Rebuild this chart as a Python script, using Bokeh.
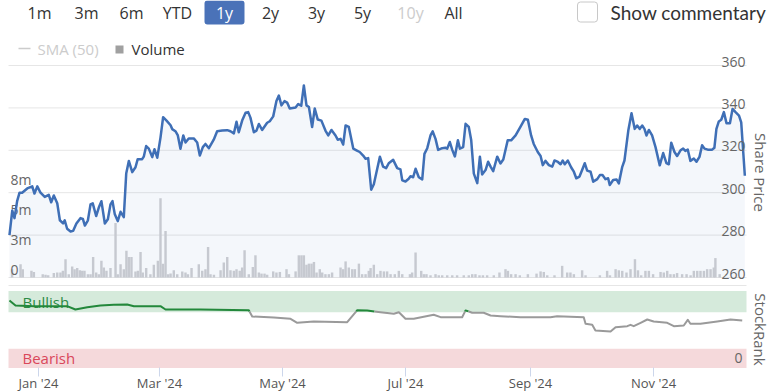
import datetime as dt
from bokeh.plotting import figure
from bokeh.models import Range1d
from bokeh.core.properties import value
from bokeh.embed import file_html
from bokeh.resources import INLINE

# ---------------- data ----------------
# x values: days since 2024-01-01
price_days = [-14.4, -13.0, -11.9, -10.6, -9.4, -8.1, -5.6, -3.1, -2.0, -0.6,
              1.0, 3.1, 5.1, 6.3, 7.6, 9.3, 10.6, 12.2, 13.0, 14.2,
              15.9, 17.2, 18.8, 20.8, 22.0, 23.0, 24.5, 25.8, 26.9, 28.6,
              29.9, 31.2, 32.9, 34.4, 35.7, 36.7, 37.8, 39.3, 40.7, 42.3,
              43.5, 44.8, 46.5, 48.1, 49.2, 51.4, 52.2, 53.4, 54.7, 56.4,
              57.5, 58.9, 60.5, 61.8, 63.5, 65.5, 66.3, 67.9, 69.1, 70.4,
              71.8, 72.9, 74.5, 77.0, 78.7, 80.0, 81.5, 82.8, 84.5, 86.9,
              88.6, 91.1, 93.6, 95.2, 96.9, 98.2, 99.3, 101.0, 102.7, 104.0,
              105.1, 106.8, 108.1, 109.3, 110.9, 113.4, 114.7, 116.4, 118.0, 119.2,
              120.5, 122.0, 123.3, 124.6, 127.5, 128.8, 130.3, 131.6, 132.9, 134.1,
              135.7, 137.0, 138.5, 140.3, 142.3, 143.7, 145.3, 147.3, 148.4, 149.8,
              151.1, 152.3, 153.9, 156.1, 157.7, 159.3, 161.0, 162.2, 163.5, 165.0,
              166.3, 169.3, 170.9, 172.4, 173.7, 175.9, 177.9, 179.5, 180.4, 182.0,
              183.6, 184.5, 185.8, 187.0, 188.6, 190.3, 191.4, 192.8, 194.4, 195.5,
              196.9, 198.2, 200.2, 201.8, 202.7, 204.0, 205.2, 206.5, 208.0, 209.0,
              210.6, 211.8, 213.4, 214.6, 215.9, 217.6, 218.9, 220.0, 221.7, 223.0,
              224.2, 225.5, 227.5, 229.1, 230.5, 232.7, 234.4, 236.6, 239.0, 241.2,
              242.7, 244.3, 245.6, 247.6, 249.0, 250.1, 251.4, 253.1, 254.8, 255.9,
              257.6, 258.9, 260.0, 261.0, 262.5, 264.2, 265.5, 266.7, 268.3, 269.6,
              270.9, 272.1, 273.8, 275.1, 277.1, 278.4, 279.7, 281.2, 282.5, 283.3,
              285.0, 286.7, 287.8, 289.5, 290.6, 292.5, 294.1, 295.7, 296.9, 298.2,
              299.4, 300.5, 301.5, 302.7, 304.3, 306.0, 308.1, 309.8, 311.4, 312.6,
              313.8, 315.4, 316.7, 318.4, 319.7, 320.8, 322.0, 323.3, 325.0, 326.3,
              327.8, 329.1, 330.3, 331.9, 334.1, 335.2, 336.2, 337.4, 338.6, 339.9,
              341.2, 342.9, 344.2, 345.7, 347.4, 348.5, 350.3]
price_vals = [280.0, 291.6, 288.0, 296.0, 300.0, 300.0, 302.0, 303.0, 299.6, 303.0,
              300.0, 298.0, 299.0, 295.5, 298.7, 295.0, 287.0, 285.5, 287.0, 283.0,
              281.7, 282.0, 285.5, 288.0, 287.6, 284.5, 287.0, 294.5, 295.0, 289.0,
              293.0, 296.0, 285.5, 287.5, 294.5, 296.0, 290.0, 286.6, 291.0, 288.5,
              309.0, 315.0, 309.7, 312.0, 315.8, 315.8, 317.0, 322.0, 320.8, 316.8,
              320.5, 316.5, 326.0, 335.6, 334.0, 331.8, 330.0, 329.0, 327.0, 320.7,
              327.0, 323.7, 325.6, 325.6, 323.7, 317.5, 321.5, 323.0, 321.0, 325.0,
              329.0, 329.3, 329.5, 329.0, 328.0, 333.5, 328.5, 334.0, 337.7, 338.0,
              335.4, 328.5, 329.3, 332.4, 329.6, 333.0, 333.7, 336.0, 343.2, 345.8,
              341.2, 343.2, 342.5, 339.7, 340.2, 341.8, 341.0, 350.6, 341.2, 340.4,
              331.0, 339.7, 334.5, 334.0, 329.3, 327.0, 329.6, 327.0, 325.0, 325.4,
              322.7, 331.7, 331.0, 320.8, 320.0, 319.2, 317.5, 316.0, 316.3, 301.4,
              304.0, 317.0, 312.3, 311.6, 313.9, 315.5, 311.6, 311.0, 305.8, 305.3,
              306.6, 307.8, 307.3, 311.3, 307.3, 306.3, 318.3, 321.0, 327.0, 328.9,
              325.4, 320.2, 321.0, 321.2, 320.8, 323.9, 320.2, 317.1, 324.7, 320.8,
              321.5, 332.5, 331.0, 324.7, 309.0, 304.5, 317.0, 308.6, 310.7, 314.6,
              312.3, 310.2, 317.0, 313.8, 315.7, 324.7, 324.7, 327.0, 331.0, 334.8,
              334.4, 327.0, 323.0, 319.2, 317.3, 313.0, 315.0, 313.0, 312.3, 315.2,
              314.5, 313.4, 315.2, 313.4, 315.2, 311.9, 309.9, 306.8, 307.6, 310.7,
              313.9, 310.4, 309.9, 305.2, 306.4, 308.3, 308.3, 306.4, 306.8, 303.6,
              306.0, 306.2, 304.4, 312.2, 315.2, 329.3, 337.5, 330.1, 331.7, 330.1,
              331.7, 330.1, 327.0, 329.6, 327.0, 321.5, 312.9, 318.7, 314.0, 313.4,
              323.6, 319.2, 317.3, 320.0, 320.8, 319.7, 320.3, 315.0, 316.1, 314.6,
              316.9, 322.4, 320.8, 320.3, 320.3, 321.2, 330.1, 333.6, 334.4, 338.0,
              332.8, 332.8, 339.5, 338.0, 336.4, 333.2, 308.0]

vol_days = [-13.1, -8.9, -7.8, -3.5, -2.3, 2.1, 3.5, 4.8, 7.6, 9.3,
            10.9, 12.1, 13.4, 15.0, 16.7, 17.9, 19.2, 20.5, 21.7, 22.8,
            24.5, 25.8, 27.1, 28.6, 29.9, 31.2, 32.4, 33.7, 35.7, 38.2,
            39.3, 40.7, 42.3, 43.6, 44.8, 46.1, 48.1, 49.3, 50.6, 51.7,
            53.4, 55.5, 57.2, 59.2, 60.5, 61.7, 63.0, 64.3, 65.5, 67.1,
            68.8, 71.3, 72.9, 74.1, 75.9, 79.5, 81.2, 82.8, 84.1, 85.3,
            87.0, 90.3, 91.9, 93.6, 95.2, 96.9, 98.2, 99.8, 101.0, 102.2,
            104.3, 106.3, 107.6, 109.3, 110.6, 112.1, 113.4, 116.4, 118.0, 119.7,
            123.0, 124.2, 127.5, 129.1, 130.4, 131.6, 132.9, 134.1, 135.4, 136.6,
            137.9, 139.5, 140.7, 142.3, 144.0, 145.6, 149.8, 151.1, 152.3, 153.9,
            155.6, 156.9, 158.9, 160.5, 162.2, 163.8, 164.7, 166.3, 168.0, 169.6,
            171.3, 172.9, 174.6, 176.7, 178.7, 180.4, 184.2, 185.3, 187.0, 189.8,
            191.1, 192.4, 194.4, 196.9, 198.5, 200.2, 202.7, 205.2, 207.6, 210.9,
            213.4, 215.1, 216.7, 218.7, 220.4, 222.5, 225.8, 228.6, 231.6, 232.8,
            234.4, 236.6, 238.7, 242.7, 247.0, 249.0, 250.6, 252.3, 255.9, 259.7,
            262.2, 263.8, 265.5, 269.6, 271.3, 278.4, 282.0, 283.4, 286.2, 287.8,
            289.5, 291.6, 293.6, 295.8, 297.3, 298.9, 301.0, 302.7, 304.8, 308.5,
            310.1, 311.8, 313.4, 315.1, 316.7, 319.2, 321.4, 323.4, 325.0, 326.7,
            328.3, 330.0, 331.6, 333.3, 334.9, 335.7, 337.8]
vol_millions = [0.75, 1.2, 0.75, 0.6, 0.5, 0.3, 0.25, 0.2, 0.4, 0.45,
                0.45, 0.6, 1.65, 0.3, 1.0, 0.75, 0.85, 0.65, 0.6, 0.6,
                0.3, 0.3, 1.85, 0.45, 0.3, 1.5, 0.9, 0.6, 0.85, 4.9,
                0.3, 1.2, 0.75, 2.4, 1.85, 1.85, 0.55, 0.6, 2.3, 0.45,
                0.85, 0.3, 1.15, 1.5, 7.15, 1.25, 4.2, 0.3, 0.35, 0.65,
                0.3, 0.55, 0.45, 0.3, 0.85, 1.2, 0.6, 0.75, 2.75, 0.3,
                0.25, 0.65, 1.35, 1.85, 0.65, 0.6, 0.75, 0.6, 0.9, 2.45,
                0.3, 0.95, 2.0, 0.45, 0.35, 0.35, 0.25, 0.55, 0.45, 0.5,
                0.75, 0.3, 0.55, 2.0, 2.0, 2.0, 1.15, 1.25, 1.25, 1.4,
                0.45, 0.75, 0.45, 0.3, 0.3, 0.45, 0.9, 0.75, 1.45, 0.9,
                0.75, 0.75, 1.25, 0.3, 0.3, 0.6, 0.85, 1.15, 0.3, 0.6,
                0.55, 0.55, 0.3, 0.3, 0.6, 0.3, 0.3, 0.45, 2.25, 0.6,
                0.3, 0.3, 0.2, 0.3, 0.2, 0.2, 0.2, 0.2, 0.2, 0.2,
                0.2, 0.3, 0.3, 0.2, 0.2, 0.2, 0.2, 0.45, 0.75, 0.6,
                0.3, 0.3, 0.2, 0.3, 0.35, 0.55, 0.5, 0.2, 0.2, 1.05,
                0.45, 0.45, 0.3, 0.65, 0.2, 0.2, 0.6, 0.2, 0.75, 0.65,
                0.6, 0.45, 0.75, 1.65, 0.65, 0.2, 0.6, 0.6, 0.3, 0.5,
                0.45, 0.6, 0.3, 0.3, 0.4, 0.3, 0.3, 0.2, 0.6, 0.6,
                0.6, 0.6, 0.75, 0.75, 0.9, 1.75, 0.3]

rank_days = [-14.4, -11.4, -2.3, 14.2, 18.3, 24.2, 30.7, 37.3, 44.0, 47.3,
             60.5, 63.0, 80.3, 104.3, 106.0, 116.7, 125.0, 128.3, 136.5, 153.1,
             158.1, 163.0, 169.6, 176.2, 178.7, 179.5, 182.0, 186.1, 196.0, 199.4,
             210.1, 211.8, 213.4, 215.1, 220.8, 224.2, 229.1, 239.0, 253.9, 257.2,
             270.4, 271.3, 274.6, 276.2, 283.7, 286.2, 292.0, 293.6, 295.2, 298.6,
             301.9, 305.1, 311.8, 315.1, 320.0, 322.0, 323.3, 328.3, 336.6, 343.2,
             349.0]
rank_vals = [87.7, 81.2, 80.3, 80.3, 76.0, 79.0, 81.2, 82.1, 82.5, 80.3,
             80.3, 76.0, 76.0, 75.1, 66.9, 65.6, 63.9, 58.7, 60.4, 59.5,
             75.1, 74.7, 72.5, 70.4, 72.5, 70.4, 63.9, 63.9, 69.1, 66.0,
             66.0, 74.7, 73.4, 71.7, 71.7, 68.2, 67.3, 66.0, 66.0, 67.3,
             66.0, 57.4, 56.1, 48.7, 47.4, 53.0, 54.3, 56.1, 54.3, 58.7,
             63.0, 60.4, 58.7, 54.3, 55.2, 62.6, 57.4, 57.4, 60.4, 63.0,
             61.7]

price_ticks = [260, 280, 300, 320, 340, 360]
vol_ticks = [0, 2.7, 5.4, 8.1]
vol_tick_labels = ["0", "3m", "5m", "8m"]
month_ticks = ["2024-01-01", "2024-03-01", "2024-05-01", "2024-07-01", "2024-09-01", "2024-11-01"]
range_buttons = ["1m", "3m", "6m", "YTD", "1y", "2y", "3y", "5y", "10y", "All"]
bullish_from, bearish_to = 72.5, 25.0
zone_threshold = 73.5

assert len(price_days) == len(price_vals)
assert len(vol_days) == len(vol_millions)
assert len(rank_days) == len(rank_vals)

# ---------------- layout helpers (page pixels; frame = whole canvas) ----------------
W, H = 771, 392
FT, FB = 0, H
FL, FR = 0, W
JAN1_PX, PX_PER_DAY = 38.0, 2.0164
PLOT_RIGHT_PX = 746
DAY_MS = 86400000.0
EPOCH = dt.datetime(1970, 1, 1)
BASE_MS = (dt.datetime(2024, 1, 1) - EPOCH).total_seconds() * 1000


def day_ms(d):
    return BASE_MS + d * DAY_MS


def px_ms(px):
    return day_ms((px - JAN1_PX) / PX_PER_DAY)


def yrange(v_ref, y_ref, k):
    return Range1d(start=v_ref - (FB - y_ref) / k, end=v_ref + (y_ref - FT) / k)


FONT = value("Open Sans")
x_left, x_right = px_ms(8), px_ms(PLOT_RIGHT_PX)

p = figure(width=W, height=H, output_backend="svg", toolbar_location=None,
           x_axis_location=None, y_axis_location=None,
           x_range=Range1d(px_ms(FL), px_ms(FR)), y_range=Range1d(0, 1),
           min_border_left=0, min_border_right=0, min_border_top=0, min_border_bottom=0)
p.extra_x_ranges = {"px": Range1d(FL, FR)}
p.extra_y_ranges = {"py": Range1d(FB, FT),
                    "price": yrange(260, 277, 2.12),
                    "vol": yrange(0, 277, 11.1),
                    "rank": yrange(0, 367.5, 0.77)}
p.outline_line_color = None
p.xgrid.visible = False
p.ygrid.visible = False
p.background_fill_color = "white"
p.border_fill_color = "white"

# ---------------- price panel ----------------
p.segment(x0=[x_left] * len(price_ticks), x1=[x_right] * len(price_ticks),
          y0=price_ticks, y1=price_ticks, line_color="#e6e6e6", line_width=1, y_range_name="price")
pxs = [day_ms(d) for d in price_days]
p.varea(x=pxs, y1=[price_ticks[0]] * len(pxs), y2=price_vals, fill_color="#4572b8", fill_alpha=0.06,
        y_range_name="price")
p.vbar(x=[day_ms(d) for d in vol_days], top=vol_millions, bottom=0, width=1.2 * DAY_MS,
       fill_color="#c6c9d0", line_color=None, y_range_name="vol")
p.text(x=[px_ms(10)] * len(vol_ticks), y=vol_ticks, text=vol_tick_labels, text_font=FONT,
       text_font_size="14px", text_color="#666666", text_align="left", text_baseline="middle",
       y_offset=-8, y_range_name="vol")
p.line(x=pxs, y=price_vals, line_color="#3f6fb6", line_width=2.5, line_join="round", y_range_name="price")
p.text(x=[px_ms(745)] * len(price_ticks), y=price_ticks, text=[str(t) for t in price_ticks], text_font=FONT,
       text_font_size="14px", text_color="#666666", text_align="right", text_baseline="alphabetic",
       y_offset=-4, y_range_name="price")

# ---------------- StockRank panel ----------------
p.segment(x0=[8], x1=[PLOT_RIGHT_PX], y0=[285], y1=[285], line_color="#e6e6e6", line_width=1,
          x_range_name="px", y_range_name="py")
p.quad(left=[x_left, x_left], right=[x_right, x_right], bottom=[bullish_from, 0], top=[100, bearish_to],
       fill_color=["#d5eadb", "#f5d9db"], line_color=None, y_range_name="rank")
p.text(x=[px_ms(22), px_ms(22)], y=[(bullish_from + 100) / 2, bearish_to / 2], text=["Bullish", "Bearish"],
       text_font=FONT, text_font_size="15px", text_color=["#2c8a45", "#d9475a"], text_align="left",
       text_baseline="middle", y_range_name="rank")
p.text(x=[px_ms(742)], y=[bearish_to / 2], text=["0"], text_font=FONT, text_font_size="14px",
       text_color="#666666", text_align="right", text_baseline="middle", y_range_name="rank")

# split rank line into green (above zone threshold) and grey parts
pieces = []
for i in range(len(rank_days) - 1):
    d0, d1, v0, v1 = rank_days[i], rank_days[i + 1], rank_vals[i], rank_vals[i + 1]
    if (v0 - zone_threshold) * (v1 - zone_threshold) < 0:
        dm = d0 + (zone_threshold - v0) / (v1 - v0) * (d1 - d0)
        parts = [(d0, v0, dm, zone_threshold), (dm, zone_threshold, d1, v1)]
    else:
        parts = [(d0, v0, d1, v1)]
    for a, b, c, e in parts:
        green = (b + e) / 2 >= zone_threshold
        if pieces and pieces[-1][0] == green:
            pieces[-1][1].append(day_ms(c))
            pieces[-1][2].append(e)
        else:
            pieces.append([green, [day_ms(a), day_ms(c)], [b, e]])
p.multi_line(xs=[q[1] for q in pieces], ys=[q[2] for q in pieces],
             line_color=["#23883b" if q[0] else "#9a9a9a" for q in pieces], line_width=2,
             line_join="round", y_range_name="rank")

# ---------------- date axis (ticks + labels below the StockRank panel) ----------------
tick_ms = [(dt.datetime.fromisoformat(m) - EPOCH).total_seconds() * 1000 for m in month_ticks]
tick_labels = [dt.datetime.fromisoformat(m).strftime("%b '%y") for m in month_ticks]
p.segment(x0=tick_ms, x1=tick_ms, y0=[367] * len(tick_ms), y1=[376] * len(tick_ms),
          line_color="#ccd6eb", line_width=1, y_range_name="py")
p.text(x=tick_ms, y=[382.5] * len(tick_ms), text=tick_labels, text_font=FONT, text_font_size="13px",
       text_color="#555555", text_align="center", text_baseline="middle", y_range_name="py")

# ---------------- side titles ----------------
p.text(x=[760, 760], y=[172, 329], text=["Share Price", "StockRank"], text_font=FONT, text_font_size="15px",
       text_color="#666666", text_align="center", text_baseline="middle", angle=-1.5708,
       x_range_name="px", y_range_name="py")

# ---------------- header: range buttons, checkbox, legend ----------------
p.quad(left=[204], right=[244], top=[0], bottom=[24], fill_color="#4a72b8", line_color=None,
       border_radius=3, x_range_name="px", y_range_name="py")
btn_x = [39, 86, 131, 177, 224, 270, 316, 362, 410, 453]
btn_col = ["#333333"] * len(range_buttons)
btn_col[4] = "#ffffff"
btn_col[8] = "#cccccc"
p.text(x=btn_x, y=[12] * len(range_buttons), text=range_buttons, text_font=FONT, text_font_size="16px",
       text_color=btn_col, text_align="center", text_baseline="middle", x_range_name="px", y_range_name="py")
p.quad(left=[577], right=[597], top=[1.5], bottom=[21.5], fill_color="white", line_color="#c8c8c8",
       line_width=1, border_radius=3, x_range_name="px", y_range_name="py")
p.text(x=[610], y=[12], text=["Show commentary"], text_font=value("Lato"), text_font_size="19px",
       text_color="#333333", text_align="left", text_baseline="middle", x_range_name="px", y_range_name="py")

p.segment(x0=[18], x1=[30], y0=[48], y1=[48], line_color="#cccccc", line_width=1.5,
          x_range_name="px", y_range_name="py")
p.text(x=[37], y=[48], text=["SMA (50)"], text_font=FONT, text_font_size="15px", text_color="#cccccc",
       text_align="left", text_baseline="middle", x_range_name="px", y_range_name="py")
p.quad(left=[115], right=[123], top=[45], bottom=[53], fill_color="#a0a0a0", line_color=None,
       x_range_name="px", y_range_name="py")
p.text(x=[131], y=[48], text=["Volume"], text_font=FONT, text_font_size="15px", text_color="#333333",
       text_align="left", text_baseline="middle", x_range_name="px", y_range_name="py")

open("out.html", "w").write(file_html(p, INLINE))
